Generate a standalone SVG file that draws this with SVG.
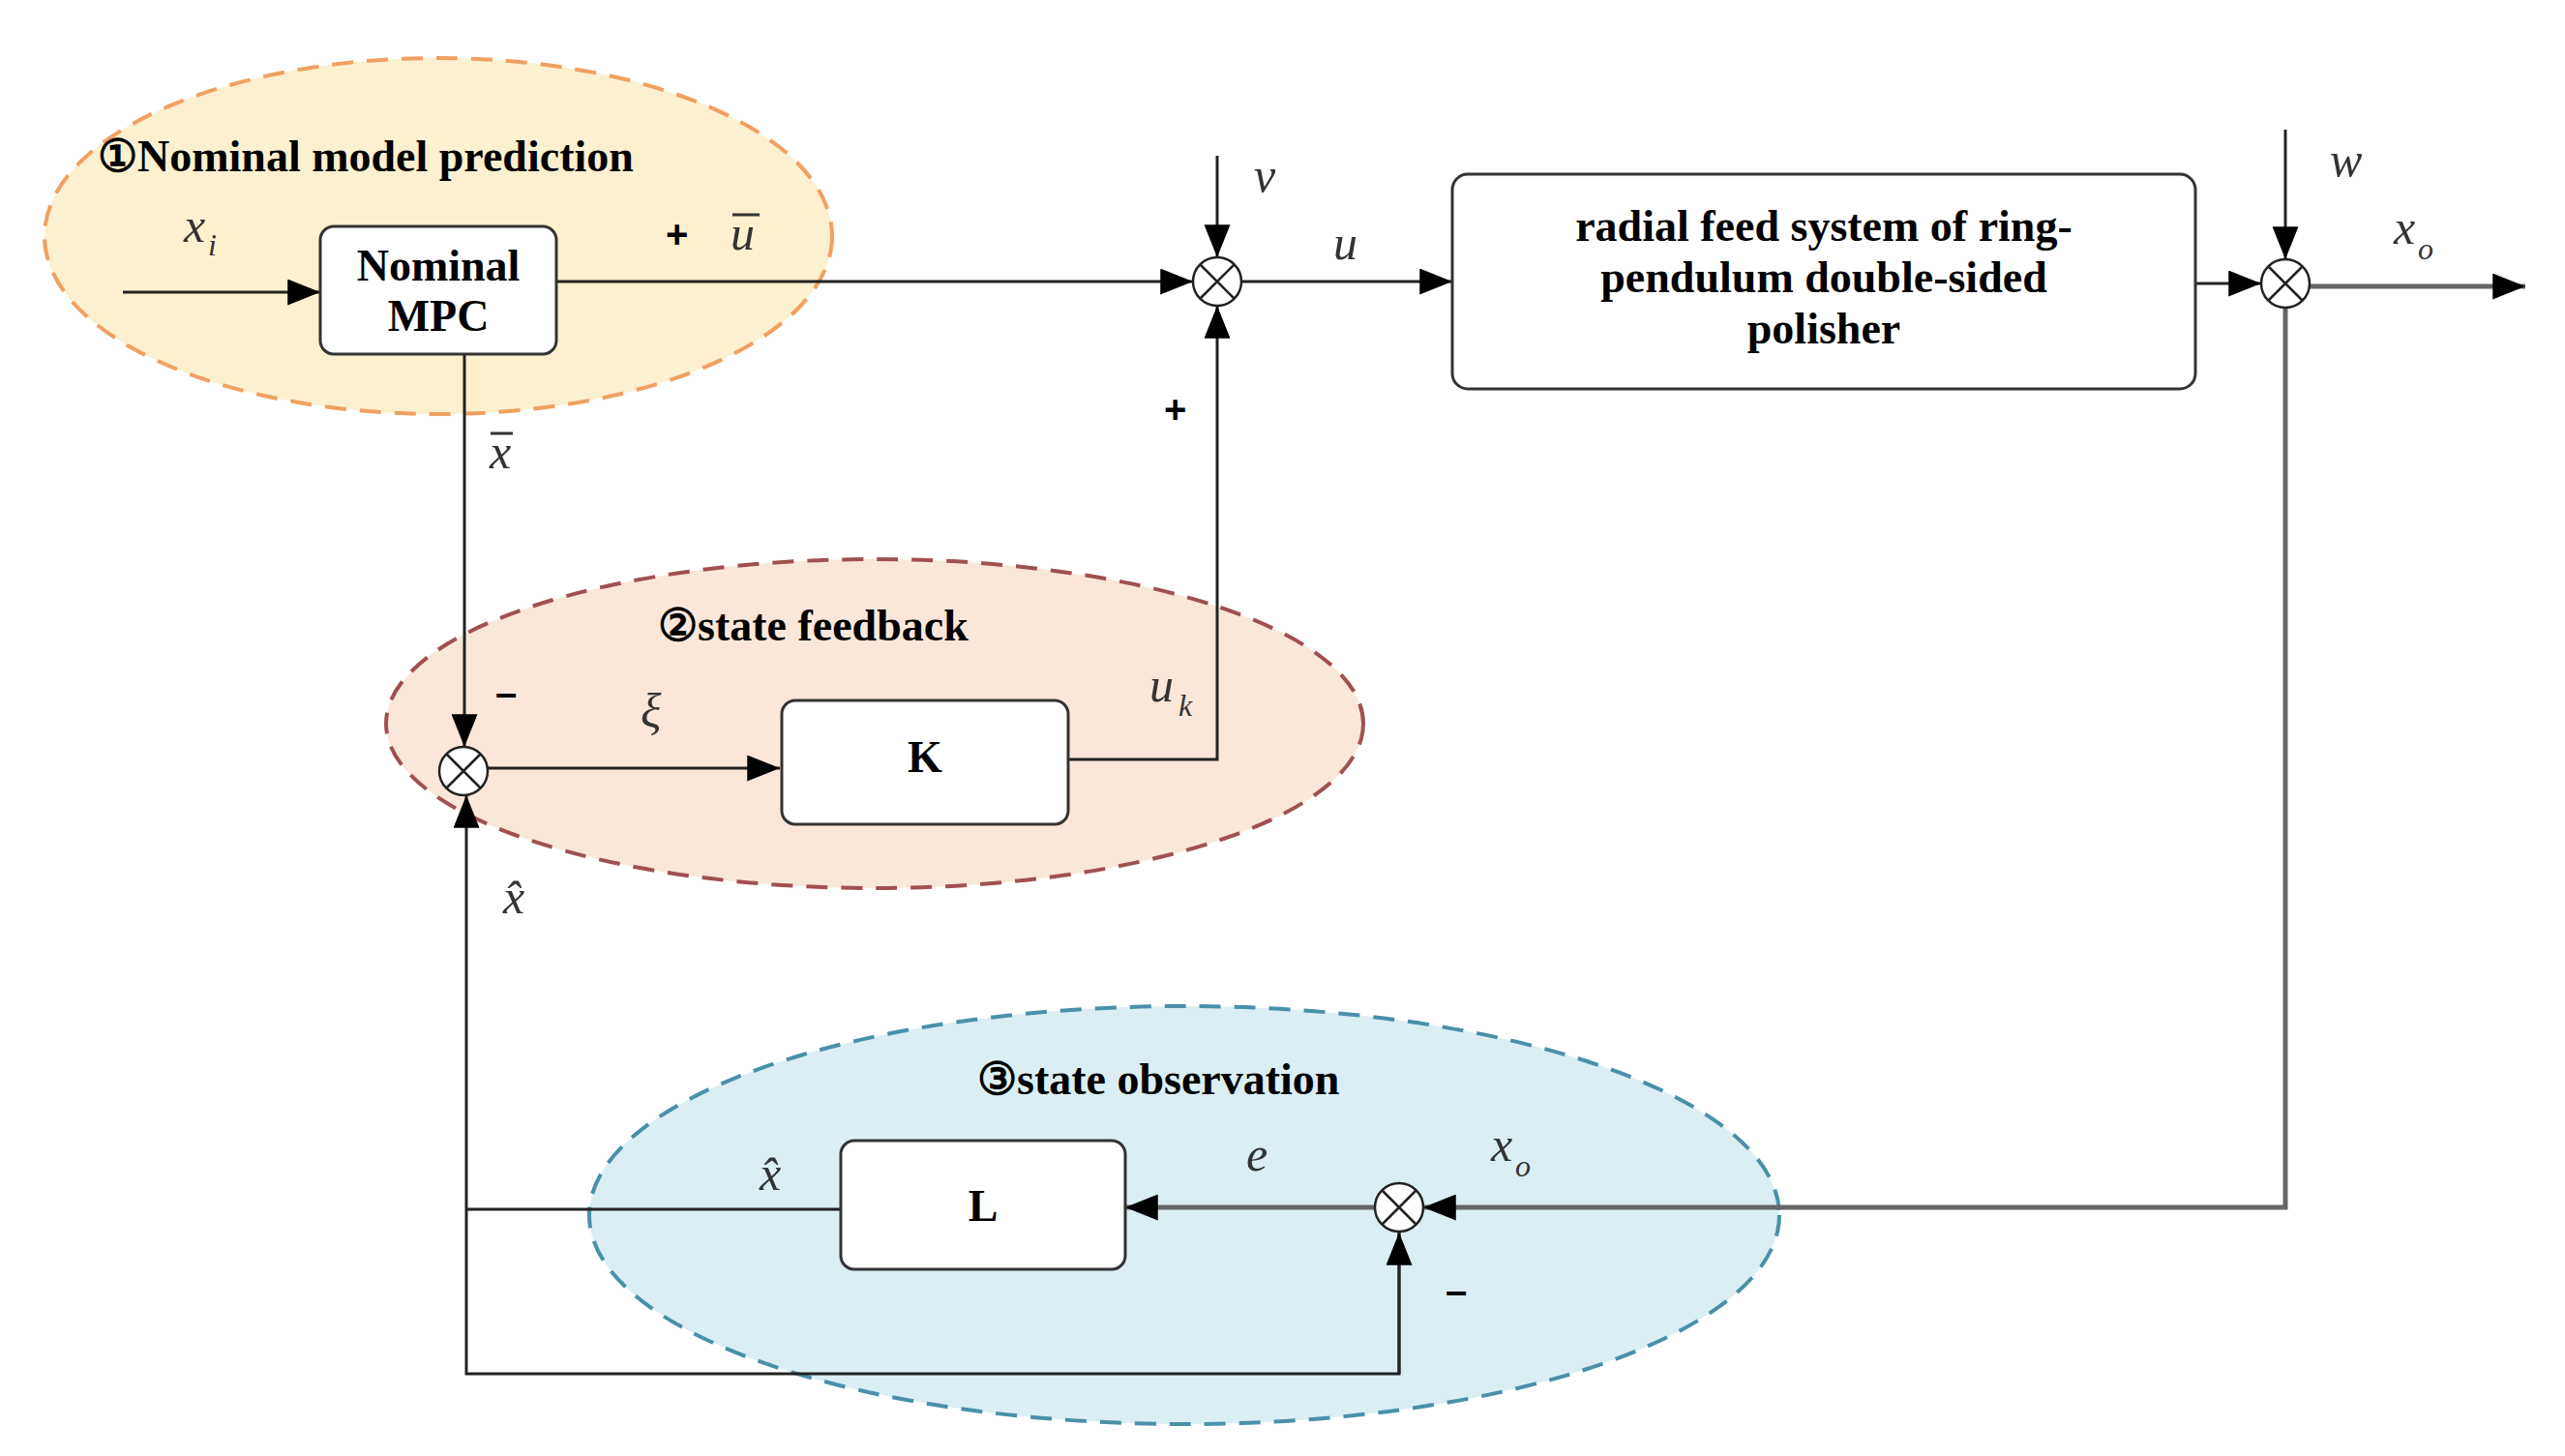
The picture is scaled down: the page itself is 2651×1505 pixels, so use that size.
<svg xmlns="http://www.w3.org/2000/svg" width="2651" height="1505" viewBox="0 0 2651 1505">
<defs>
<marker id="ar" markerWidth="12" markerHeight="10" refX="11" refY="5" orient="auto" markerUnits="userSpaceOnUse" viewBox="0 0 12 10"><path d="M0,0 L12,5 L0,10 Z" fill="#000"/></marker>
<marker id="a2" viewBox="0 0 10 8" refX="10" refY="4" markerWidth="34" markerHeight="27" orient="auto" markerUnits="userSpaceOnUse"><path d="M0,0 L10,4 L0,8 Z" fill="#000"/></marker>
</defs>
<style>
.t{font-family:"Liberation Serif","Times New Roman",serif;font-weight:bold;font-size:46px;fill:#000}
.m{font-family:"Liberation Serif","Times New Roman",serif;font-style:italic;font-size:50px;fill:#333}
.s{font-family:"Liberation Serif",serif;font-style:italic;font-size:32px;fill:#333}
.p{font-family:"Liberation Sans",Arial,sans-serif;font-weight:bold;font-size:40px;fill:#000}
.box{fill:#fff;stroke:#333;stroke-width:3}
.ln{fill:none;stroke:#222;stroke-width:3}
.gl{fill:none;stroke:#666;stroke-width:5}
.sj{fill:#fff;stroke:#222;stroke-width:2.5}
</style>
<rect width="2651" height="1505" fill="#fff"/>
<g id="region1"><ellipse cx="453" cy="244" rx="407" ry="184" fill="#fdf0cf" stroke="#f0a060" stroke-width="4" stroke-dasharray="22,14"/>
<text class="t" x="101" y="177">①Nominal model prediction</text></g>
<g id="region2"><ellipse cx="904" cy="748" rx="505" ry="170" fill="#fbe7da" stroke="#a05050" stroke-width="4" stroke-dasharray="22,14"/>
<text class="t" x="680" y="662">②state feedback</text></g>
<g id="region3"><ellipse cx="1224" cy="1256" rx="615" ry="216" fill="#dbeef4" stroke="#4a90a8" stroke-width="4" stroke-dasharray="22,14"/>
<text class="t" x="1010" y="1131">③state observation</text></g>
<g id="connectors">
<line class="ln" x1="127" y1="302" x2="331" y2="302" marker-end="url(#a2)"/>
<line class="ln" x1="575" y1="291" x2="1233" y2="291" marker-end="url(#a2)"/>
<line class="ln" x1="1258" y1="161" x2="1258" y2="266" marker-end="url(#a2)"/>
<polyline class="ln" points="1104,785 1258,785 1258,316" marker-end="url(#a2)"/>
<line class="ln" x1="1283" y1="291" x2="1501" y2="291" marker-end="url(#a2)"/>
<line class="ln" x1="480" y1="366" x2="480" y2="772" marker-end="url(#a2)"/>
<line class="ln" x1="504" y1="794" x2="806" y2="794" marker-end="url(#a2)"/>
<line class="ln" x1="2269" y1="293" x2="2337" y2="293" marker-end="url(#a2)"/>
<line class="ln" x1="2362" y1="134" x2="2362" y2="268" marker-end="url(#a2)"/>
<line class="gl" x1="2387" y1="296" x2="2610" y2="296" marker-end="url(#a2)"/>
<polyline class="gl" points="2362,318 2362,1248 1471,1248" marker-end="url(#a2)"/>
<line class="gl" x1="1421" y1="1248" x2="1163" y2="1248" marker-end="url(#a2)"/>
<line class="ln" x1="869" y1="1250" x2="482" y2="1250"/>
<polyline class="ln" points="1446,1273 1446,1420 482,1420 482,822" marker-end="url(#a2)"/>
<line class="ln" x1="1446" y1="1420" x2="1446" y2="1274" marker-end="url(#a2)"/>
</g>
<g id="mpc"><rect class="box" x="331" y="234" width="244" height="132" rx="14"/>
<text class="t" x="453" y="290" text-anchor="middle">Nominal</text><text class="t" x="453" y="342" text-anchor="middle">MPC</text></g>
<g id="plant"><rect class="box" x="1501" y="180" width="768" height="222" rx="16"/>
<text class="t" x="1885" y="249" text-anchor="middle">radial feed system of ring-</text>
<text class="t" x="1885" y="302" text-anchor="middle">pendulum double-sided</text>
<text class="t" x="1885" y="355" text-anchor="middle">polisher</text></g>
<g id="K"><rect class="box" x="808" y="724" width="296" height="128" rx="14"/><text class="t" x="956" y="798" text-anchor="middle">K</text></g>
<g id="L"><rect class="box" x="869" y="1179" width="294" height="133" rx="14"/><text class="t" x="1016" y="1262" text-anchor="middle">L</text></g>
<g id="sum1"><circle class="sj" cx="1258" cy="291" r="25"/><path d="M1240,273 L1276,309 M1276,273 L1240,309" stroke="#222" stroke-width="2.5"/></g>
<g id="sum2"><circle class="sj" cx="479" cy="797" r="25"/><path d="M461,779 L497,815 M497,779 L461,815" stroke="#222" stroke-width="2.5"/></g>
<g id="sum3"><circle class="sj" cx="1446" cy="1248" r="25"/><path d="M1428,1230 L1464,1266 M1464,1230 L1428,1266" stroke="#222" stroke-width="2.5"/></g>
<g id="sum4"><circle class="sj" cx="2362" cy="293" r="25"/><path d="M2344,275 L2380,311 M2380,275 L2344,311" stroke="#222" stroke-width="2.5"/></g>
<g id="labels">
<text class="m" x="190" y="250">x</text><text class="s" x="215" y="264">i</text>
<text class="p" x="688" y="256">+</text>
<text class="m" x="755" y="258">u</text><line x1="757" y1="222" x2="785" y2="222" stroke="#333" stroke-width="3"/>
<text class="m" x="1296" y="198">v</text>
<text class="m" x="1378" y="268">u</text>
<text class="p" x="1203" y="437">+</text>
<text class="m" x="506" y="484">x</text><line x1="507" y1="448" x2="530" y2="448" stroke="#333" stroke-width="3"/>
<text class="p" x="512" y="730">–</text>
<text class="m" x="662" y="752">ξ</text>
<text class="m" x="1188" y="725">u</text><text class="s" x="1218" y="740">k</text>
<text class="m" x="520" y="944">x̂</text>
<text class="m" x="2408" y="182">w</text>
<text class="m" x="2474" y="252">x</text><text class="s" x="2499" y="268">o</text>
<text class="m" x="1541" y="1200">x</text><text class="s" x="1566" y="1216">o</text>
<text class="m" x="1288" y="1210">e</text>
<text class="m" x="785" y="1230">x̂</text>
<text class="p" x="1494" y="1348">–</text>
</g>
</svg>
